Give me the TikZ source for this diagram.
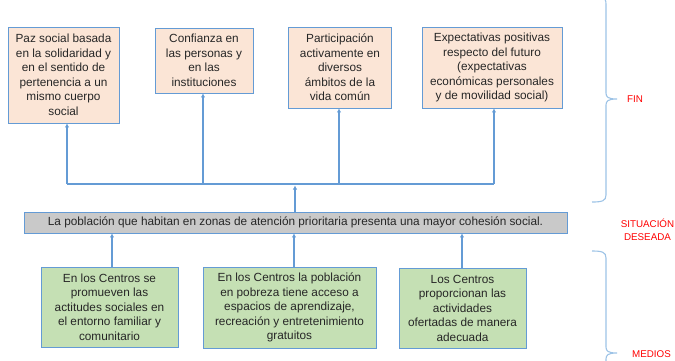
\documentclass[tikz,border=0pt]{standalone}
\usepackage{fontspec}
\setmainfont{Liberation Sans}
\usetikzlibrary{arrows.meta}
\definecolor{boxline}{RGB}{100,155,213}
\definecolor{peach}{RGB}{251,229,214}
\definecolor{greenfill}{RGB}{197,224,180}
\definecolor{grayfill}{RGB}{201,201,201}
\definecolor{bracecol}{RGB}{157,195,230}
\definecolor{labred}{RGB}{255,0,0}
\tikzset{
  basebox/.style={draw=boxline, line width=0.9pt, align=center, inner sep=2pt,
    font=\fontsize{11.8}{14.5}\selectfont, text=black!85},
  topbox/.style={basebox, fill=peach},
  botbox/.style={basebox, fill=greenfill},
  midbox/.style={basebox, fill=grayfill},
  arr/.style={draw=boxline, line width=1.1pt, -{Latex[length=4pt,width=4.5pt]}},
  conn/.style={draw=boxline, line width=1.1pt},
  bracestyle/.style={draw=bracecol, line width=1.1pt},
  lab/.style={text=labred, font=\fontsize{9.8}{12.8}\selectfont, align=center, inner sep=0pt}
}
\begin{document}
\begin{tikzpicture}[x=1pt,y=-1pt]
\useasboundingbox (0,0) rectangle (675,360);
% top boxes
\node[topbox, minimum width=111pt, minimum height=96pt] (t1) at (63.5,75) {Paz social basada\\en la solidaridad y\\en el sentido de\\pertenencia a un\\mismo cuerpo\\social};
\node[topbox, minimum width=98pt, minimum height=65pt] (t2) at (204,60.5) {Confianza en\\las personas y\\en las\\instituciones};
\node[topbox, minimum width=103pt, minimum height=81pt] (t3) at (340,67.5) {Participación\\activamente en\\diversos\\ámbitos de la\\vida común};
\node[topbox, minimum width=140pt, minimum height=81pt] (t4) at (492,67.5) {Expectativas positivas\\respecto del futuro\\(expectativas\\económicas personales\\y de movilidad social)};
% middle
\node[midbox, minimum width=543pt, minimum height=21pt] (m) at (295.5,222.5) {La población que habitan en zonas de atención prioritaria presenta una mayor cohesión social.};
% bottom boxes
\node[botbox, minimum width=137pt, minimum height=80pt] (b1) at (109.5,307) {En los Centros se\\promueven las\\actitudes sociales en\\el entorno familiar y\\comunitario};
\node[botbox, minimum width=173pt, minimum height=81pt] (b2) at (289.5,307.5) {En los Centros la población\\en pobreza tiene acceso a\\espacios de aprendizaje,\\recreación y entretenimiento\\gratuitos};
\node[botbox, minimum width=127pt, minimum height=80pt] (b3) at (462.5,308) {Los Centros\\proporcionan las\\actividades\\ofertadas de manera\\adecuada};
% connectors top
\coordinate (h) at (295,184);
\coordinate (h1) at ([xshift=3.5pt]t1.south |- h);
\coordinate (h2) at ([xshift=-1pt]t2.south |- h);
\coordinate (h3) at ([xshift=-1pt]t3.south |- h);
\coordinate (h4) at ([xshift=2pt]t4.south |- h);
\draw[conn] (h1) -- (h4);
\draw[arr] (h1) -- (h1 |- t1.south);
\draw[arr] (h2) -- (h2 |- t2.south);
\draw[arr] (h3) -- (h3 |- t3.south);
\draw[arr] (h4) -- (h4 |- t4.south);
\draw[arr] (m.north -| h) -- ([yshift=-1.5pt]h);
% connectors bottom
\draw[arr] ([xshift=2.5pt]b1.north) -- ([xshift=2.5pt]b1.north |- m.south);
\draw[arr] ([xshift=4.5pt]b2.north) -- ([xshift=4.5pt]b2.north |- m.south);
\draw[arr] ([xshift=-0.5pt]b3.north) -- ([xshift=-0.5pt]b3.north |- m.south);
% braces
\coordinate (ftip) at (617,99);
\coordinate (mtip) at (617,353);
\draw[bracestyle] (592,-4) .. controls (602,-4) and (606,-3) .. (606,4) -- (606,93)
  .. controls (606,97) and (608,99) .. (ftip)
  .. controls (608,99) and (606,101) .. (606,105) -- (606,195)
  .. controls (606,201) and (602,202) .. (592,202);
\draw[bracestyle] (592,251) .. controls (602,251) and (606,252) .. (606,258) -- (606,347)
  .. controls (606,351) and (608,353) .. (mtip)
  .. controls (608,353) and (606,355) .. (606,359) -- (606,365);
% labels
\node[lab, anchor=west] (fin) at (627,99) {FIN};
\node[lab] (sit) at (647.5,230) {SITUACIÓN\\DESEADA};
\node[lab, anchor=west] (med) at (632,354) {MEDIOS};
\end{tikzpicture}
\end{document}
